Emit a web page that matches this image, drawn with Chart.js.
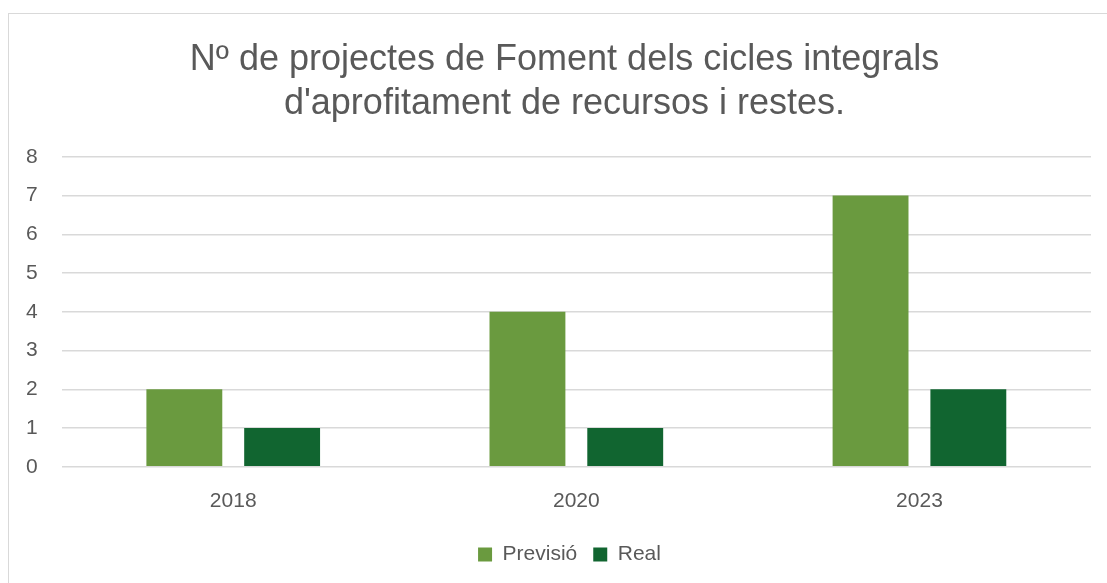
<!DOCTYPE html>
<html><head><meta charset="utf-8">
<script src="https://cdn.jsdelivr.net/npm/chart.js@4/dist/chart.umd.min.js"></script>
<style>
html,body{margin:0;padding:0;background:#fff;overflow:hidden;}
#frame{position:absolute;left:8px;top:13px;width:1120px;height:600px;border:1.5px solid #d9d9d9;box-sizing:border-box;}
#wrap{position:absolute;left:0;top:0;width:1107px;height:583px;}
</style></head>
<body>
<div id="frame"></div>
<div id="wrap"><canvas id="c" width="1107" height="583"></canvas></div>
<script>
const categories = ['2018', '2020', '2023'];
const previsio = [2, 4, 7];
const real = [1, 1, 2];
const seriesNames = ['Previsió', 'Real'];
const titleLines = ['Nº de projectes de Foment dels cicles integrals', "d'aprofitament de recursos i restes."];
const FONT = "'Liberation Sans', Arial, sans-serif";
// Centre title and legend on the chart frame rather than the canvas box
const recentre = {
  id: 'recentre',
  afterLayout(chart) {
    const t = chart.titleBlock, l = chart.legend;
    if (t) { t.left += 18; t.right += 18; }
    if (l) { l.left += 23; l.right += 23; }
  }
};
new Chart(document.getElementById('c'), {
  type: 'bar',
  data: {
    labels: categories,
    datasets: [
      {label: seriesNames[0], data: previsio, backgroundColor: '#6a9a3f', categoryPercentage: 0.57, barPercentage: 0.776},
      {label: seriesNames[1], data: real, backgroundColor: '#116530', categoryPercentage: 0.57, barPercentage: 0.776}
    ]
  },
  plugins: [recentre],
  options: {
    responsive: false,
    animation: false,
    layout: {padding: {left: 2, right: 16, top: 38, bottom: 8}},
    plugins: {
      title: {display: true, text: titleLines, color: '#595959', font: {family: FONT, size: 36, weight: 'normal', lineHeight: 1.22}, padding: {top: 0, bottom: 31}},
      legend: {position: 'bottom', labels: {color: '#595959', font: {family: FONT, size: 21}, boxWidth: 14, boxHeight: 14, padding: 16}},
      tooltip: {enabled: false}
    },
    scales: {
      x: {grid: {display: false}, border: {display: false}, ticks: {color: '#595959', font: {family: FONT, size: 21}, padding: 14}},
      y: {min: 0, max: 8, grid: {color: '#d9d9d9', lineWidth: 1.5, drawTicks: false}, border: {display: false}, ticks: {stepSize: 1, color: '#595959', font: {family: FONT, size: 21}, padding: 24}}
    }
  }
});
</script>
</body></html>
